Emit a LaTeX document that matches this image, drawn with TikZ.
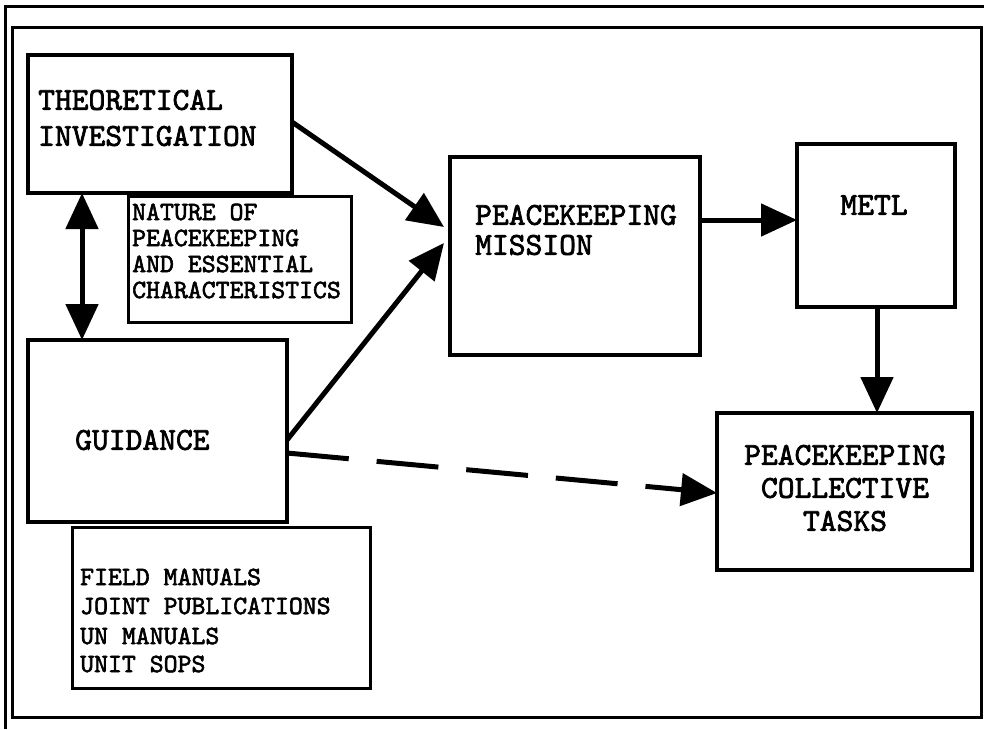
\documentclass[tikz,border=0pt]{standalone}
\usepackage{fontspec}
\usetikzlibrary{arrows.meta}
\newfontfamily\twfont[Extension=.otf, FakeBold=2.2]{lmmono10-regular}
\newcommand\bigtxt{\twfont\fontsize{32}{34}\selectfont}
\newcommand\smalltxt{\twfont\fontsize{26.5}{28}\selectfont}
\begin{document}
\begin{tikzpicture}[x=1pt,y=-1pt,
  box/.style={draw, line width=4pt, inner sep=0pt, outer sep=0pt},
  lbl/.style={anchor=west, inner sep=0pt, font=\bigtxt},
  slbl/.style={anchor=west, inner sep=0pt, font=\smalltxt},
  arr/.style={line width=5pt, -{Triangle[length=36pt,width=32pt]}},
  darr/.style={line width=5pt, {Triangle[length=36pt,width=32pt]}-{Triangle[length=36pt,width=32pt]}},
  frame/.style={line width=3pt}]
\useasboundingbox (0,0) rectangle (984,729);
% frames
\draw[frame] (5,729) -- (5,6) -- (984,6);
\draw[frame] (12,27) rectangle (981,717);
% boxes
\node[box, minimum width=264pt, minimum height=138pt] (theo) at (160,124) {};
\node[box, minimum width=223pt, minimum height=126pt, line width=3pt] (nature) at (239.5,259) {};
\node[box, minimum width=259pt, minimum height=182pt] (guid) at (157.5,431) {};
\node[box, minimum width=298pt, minimum height=161pt, line width=3pt] (field) at (221,607.5) {};
\node[box, minimum width=250pt, minimum height=198pt] (miss) at (575,256) {};
\node[box, minimum width=158pt, minimum height=163pt] (metl) at (876,225.5) {};
\node[box, minimum width=255pt, minimum height=157pt] (coll) at (844.5,491.5) {};
% texts
\node[lbl] (t1) at (38,100) {THEORETICAL};
\node[lbl] (t2) at (38,136) {INVESTIGATION};
\node[slbl] (n1) at (132,212) {NATURE OF};
\node[slbl] (n2) at (132,238) {PEACEKEEPING};
\node[slbl] (n3) at (132,264) {AND ESSENTIAL};
\node[slbl] (n4) at (132,290) {CHARACTERISTICS};
\node[lbl] (g1) at (75,440) {GUIDANCE};
\node[slbl] (f1) at (80,577) {FIELD MANUALS};
\node[slbl] (f2) at (80,606) {JOINT PUBLICATIONS};
\node[slbl] (f3) at (80,636) {UN MANUALS};
\node[slbl] (f4) at (80,664) {UNIT SOPS};
\node[lbl] (m1) at (475,215) {PEACEKEEPING};
\node[lbl] (m2) at (475,245) {MISSION};
\node[inner sep=0pt, font=\bigtxt] (e1) at (874,205) {METL};
\node[inner sep=0pt, font=\bigtxt] (c1) at (845,455) {PEACEKEEPING};
\node[inner sep=0pt, font=\bigtxt] (c2) at (845,488) {COLLECTIVE};
\node[inner sep=0pt, font=\bigtxt] (c3) at (845,521) {TASKS};
% connectors
\draw[arr] ([yshift=-67pt]theo.north east) -- ([yshift=-70pt,xshift=-6pt]miss.north west);
\draw[arr] ([yshift=-100pt]guid.north east) -- ([yshift=-86pt,xshift=-6pt]miss.north west);
\draw[arr] ([yshift=-63pt]miss.north east) -- ([yshift=-76pt]metl.north west);
\draw[arr] ([xshift=1pt]metl.south) -- ([xshift=1pt]metl.south |- coll.north);
\draw[arr, dash pattern=on 62pt off 28pt] ([yshift=-113pt]guid.north east) -- ([yshift=-80pt]coll.north west);
\draw[darr] ([xshift=54pt]theo.south west) -- ([xshift=54pt]guid.north west);
\end{tikzpicture}
\end{document}
